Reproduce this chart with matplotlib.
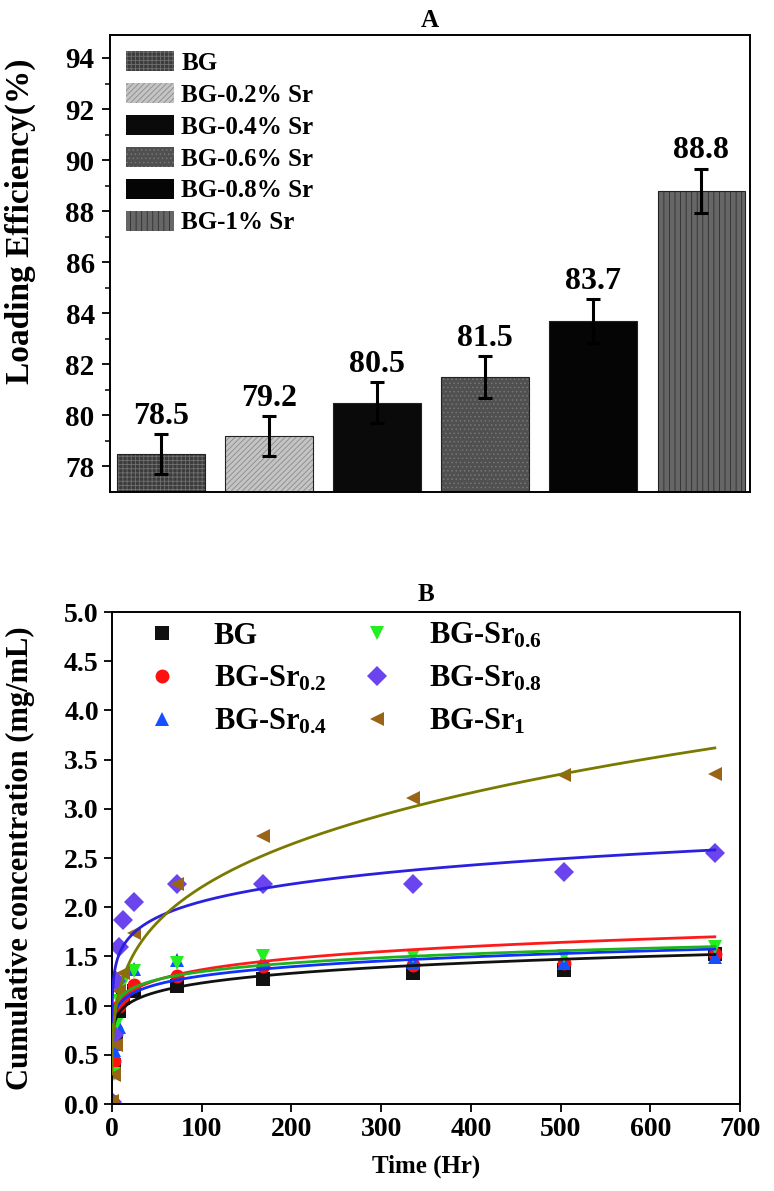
import numpy as np
import matplotlib
matplotlib.use("Agg")
import matplotlib.pyplot as plt

plt.rcParams['font.family'] = ['Liberation Serif', 'DejaVu Serif']
plt.rcParams['font.weight'] = 'bold'
plt.rcParams['mathtext.fontset'] = 'custom'
plt.rcParams['mathtext.rm'] = 'Liberation Serif:bold'
plt.rcParams['mathtext.bf'] = 'Liberation Serif:bold'
plt.rcParams['mathtext.default'] = 'bf'
plt.rcParams['hatch.linewidth'] = 0.6

# --- Panel A: loading efficiency
groups = ['BG', 'BG-0.2% Sr', 'BG-0.4% Sr', 'BG-0.6% Sr', 'BG-0.8% Sr', 'BG-1% Sr']
efficiency = [78.5, 79.2, 80.5, 81.5, 83.7, 88.8]
eff_err = [0.78, 0.79, 0.80, 0.82, 0.85, 0.87]
bar_face = ['#3c3c3c', '#c4c4c4', '#0a0a0a', '#505050', '#050505', '#666666']
bar_hatch = ['++++', '//////', None, '....', None, '|||']
hatch_col = ['#707070', '#8a8a8a', '#0a0a0a', '#767676', '#050505', '#2e2e2e']

# --- Panel B: cumulative release
time_hr = [0, 2, 4, 8, 12, 24, 72, 168, 336, 504, 672]
bg = [0.02, 0.40, 0.70, 0.95, 1.08, 1.15, 1.20, 1.27, 1.33, 1.36, 1.52]
sr02 = [0.02, 0.44, 0.75, 1.00, 1.10, 1.21, 1.30, 1.40, 1.41, 1.43, 1.52]
sr04 = [0.02, 0.55, 0.61, 0.78, 1.15, 1.37, 1.46, 1.45, 1.44, 1.43, 1.49]
sr06 = [0.02, 0.31, 0.80, 1.05, 1.23, 1.35, 1.43, 1.50, 1.50, 1.50, 1.60]
sr08 = [0.02, 0.70, 1.25, 1.60, 1.87, 2.05, 2.24, 2.24, 2.24, 2.36, 2.55]
sr1 = [0.03, 0.30, 0.60, 1.15, 1.33, 1.74, 2.24, 2.72, 3.11, 3.34, 3.35]
series = [bg, sr02, sr04, sr06, sr08, sr1]
labels_b = ['BG', 'BG-Sr$_{0.2}$', 'BG-Sr$_{0.4}$', 'BG-Sr$_{0.6}$', 'BG-Sr$_{0.8}$', 'BG-Sr$_{1}$']
markers = ['s', 'o', '^', 'v', 'D', '<']
mk_colors = ['#111111', '#ff1010', '#1450ff', '#22ee22', '#6a44ee', '#9a6418']
# power-law fit curves y = a * t^b
fit_a = [0.738, 0.804, 0.823, 0.885, 1.19, 0.666]
fit_b = [0.111, 0.115, 0.0997, 0.091, 0.119, 0.26]
fit_colors = ['#111111', '#ff1a1a', '#1030ff', '#1fb21f', '#2a20e0', '#7a7a00']

fig = plt.figure(figsize=(7.74, 11.91), dpi=100)

# ---------------- A ----------------
axA = fig.add_axes([0.142, 0.587, 0.827, 0.3836])
x = np.arange(len(groups))
handles = []
for i in range(len(groups)):
    h = axA.bar(x[i], efficiency[i] - 77, bottom=77, width=0.81, color=bar_face[i],
                edgecolor=hatch_col[i], hatch=bar_hatch[i], linewidth=0, label=groups[i])
    axA.bar(x[i], efficiency[i] - 77, bottom=77, width=0.81, fill=False,
            edgecolor='#222222', linewidth=0.8)
    handles.append(h)
axA.errorbar(x, efficiency, yerr=eff_err, fmt='none', ecolor='black',
             elinewidth=2.2, capsize=5, capthick=2.2)
for i in range(len(groups)):
    axA.text(x[i], efficiency[i] + eff_err[i] + 0.12, f'{efficiency[i]:.1f}',
             ha='center', va='bottom', fontsize=23, fontweight='bold')
axA.set_xlim(-0.47, 5.45)
axA.set_ylim(77, 94.9)
axA.set_yticks(np.arange(78, 95, 2))
axA.set_yticks(np.arange(79, 95, 2), minor=True)
axA.set_xticks([])
axA.tick_params(axis='y', which='major', direction='out', length=6, width=1.3,
                labelsize=21, pad=5)
axA.tick_params(axis='y', which='minor', direction='out', length=3.5, width=1.1)
for s in axA.spines.values():
    s.set_linewidth(1.4)
axA.set_ylabel('Loading Efficiency(%)', fontsize=24, fontweight='bold')
axA.yaxis.set_label_coords(-0.115, 0.593)
axA.set_title('A', fontsize=18, fontweight='bold', pad=6)
axA.legend(handles=handles, loc='upper left', bbox_to_anchor=(0.0, 1.0),
           frameon=False, fontsize=18, handlelength=1.9, handleheight=0.85,
           labelspacing=0.33, handletextpad=0.3, borderaxespad=0.25)

# ---------------- B ----------------
axB = fig.add_axes([0.1447, 0.073, 0.8113, 0.4131])
t_fit = np.linspace(0.05, 672, 1500)
for i in range(len(series)):
    axB.plot(time_hr, series[i], ls='none', marker=markers[i], markersize=10,
             color=mk_colors[i], markeredgewidth=0, label=labels_b[i], zorder=2)
for i in range(len(series)):
    axB.plot(t_fit, fit_a[i] * t_fit ** fit_b[i], color=fit_colors[i], lw=2, zorder=3)
axB.set_xlim(0, 700)
axB.set_ylim(0, 5)
axB.set_xticks(np.arange(0, 701, 100))
axB.set_yticks(np.arange(0, 5.01, 0.5))
axB.yaxis.set_major_formatter(matplotlib.ticker.FormatStrFormatter('%.1f'))
axB.tick_params(direction='out', length=6, width=1.3, labelsize=20)
for s in axB.spines.values():
    s.set_linewidth(1.4)
axB.set_xlabel('Time (Hr)', fontsize=18, fontweight='bold', labelpad=9)
axB.set_ylabel('Cumulative concentration (mg/mL)', fontsize=22, fontweight='bold')
axB.yaxis.set_label_coords(-0.122, 0.5)
axB.set_title('B', fontsize=18, fontweight='bold', pad=8)
axB.legend(loc='upper left', bbox_to_anchor=(0.045, 0.994), ncol=2, frameon=False,
           fontsize=22, handlelength=1.0, handletextpad=1.2, columnspacing=1.15,
           labelspacing=0.44, borderpad=0.2, borderaxespad=0.0)

fig.savefig('out.png', dpi=100)
